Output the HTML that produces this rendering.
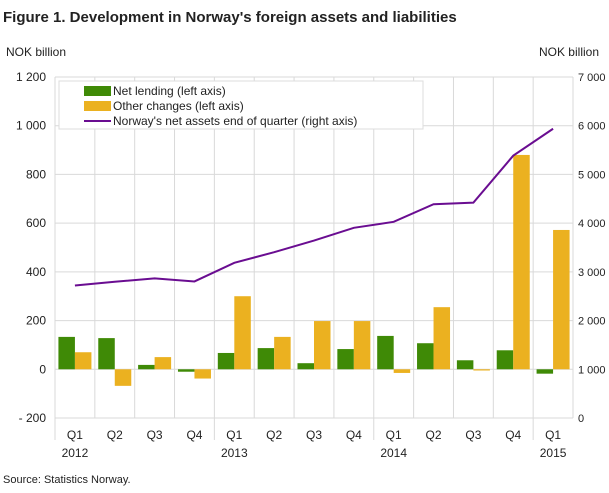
<!DOCTYPE html>
<html><head><meta charset="utf-8"><style>
body{margin:0;background:#fff;font-family:"Liberation Sans",sans-serif;}
svg text{font-family:"Liberation Sans",sans-serif;fill:#222;}
</style></head><body>
<svg width="609" height="488" xmlns="http://www.w3.org/2000/svg">
<text x="3" y="22" font-size="15" font-weight="bold">Figure 1. Development in Norway's foreign assets and liabilities</text>
<text x="6" y="56" font-size="12">NOK billion</text>
<text x="599" y="56" font-size="12" text-anchor="end">NOK billion</text>
<g id="grid"></g><g id="bars"></g><g id="line"></g><g id="axes"></g>
<g>
<rect x="59" y="81" width="364" height="48" fill="#fff" stroke="#ddd"/>
<rect x="84" y="86" width="27" height="10" fill="#3f8a06"/>
<text x="113" y="95" font-size="12">Net lending (left axis)</text>
<rect x="84" y="101" width="27" height="10" fill="#ebb120"/>
<text x="113" y="110" font-size="12">Other changes (left axis)</text>
<line x1="84" y1="121" x2="111" y2="121" stroke="#6a0d91" stroke-width="2"/>
<text x="113" y="125" font-size="12">Norway's net assets end of quarter (right axis)</text>
</g>
<text x="3" y="483" font-size="11">Source: Statistics Norway.</text>
</svg>
<script>
const quarters=["Q1","Q2","Q3","Q4","Q1","Q2","Q3","Q4","Q1","Q2","Q3","Q4","Q1"];
const years=["2012","","","","2013","","","","2014","","","","2015"];
const netLending=[133,128,18,-10,67,87,25,83,137,107,37,78,-18];
const otherChanges=[70,-68,50,-38,300,133,198,198,-15,255,-5,880,572];
const netAssets=[2720,2797,2865,2803,3186,3404,3643,3904,4027,4388,4422,5385,5938];
const leftTicks=[-200,0,200,400,600,800,1000,1200];
const leftTickLabels=["- 200","0","200","400","600","800","1 000","1 200"];
const rightTicks=[0,1000,2000,3000,4000,5000,6000,7000];
const rightTickLabels=["0","1 000","2 000","3 000","4 000","5 000","6 000","7 000"];
const NS="http://www.w3.org/2000/svg";
const L=55,R=573,T=77,B=418;
const yL=v=>B-(v+200)/1400*(B-T);
const yR=v=>B-v/7000*(B-T);
const step=(R-L)/quarters.length;
const xC=i=>L+step*(i+0.5);
function mk(tag,attrs,parent){const e=document.createElementNS(NS,tag);for(const k in attrs)e.setAttribute(k,attrs[k]);document.getElementById(parent).appendChild(e);return e;}
leftTicks.forEach((t,i)=>{
 const g=mk("line",{x1:L,x2:R,y1:yL(t),y2:yL(t),stroke:"#d9d9d9"},"grid");
 
 
 const tx=mk("text",{x:46,y:yL(t)+4,"font-size":12,"text-anchor":"end"},"axes");tx.textContent=leftTickLabels[i];
 
 
});
rightTicks.forEach((t,i)=>{
 const tx=mk("text",{x:578,y:yR(t)+4,"font-size":11},"axes");tx.textContent=rightTickLabels[i];
 
 
});
for(let i=0;i<=quarters.length;i++){
 const g=mk("line",{x1:L+step*i,x2:L+step*i,y1:T,y2:B+(i%4==0?22:0),stroke:"#d9d9d9"},"grid");
 
 
}
const bw=16.5;
quarters.forEach((q,i)=>{
 const c=xC(i);
 const b1=mk("rect",{x:c-bw,y:Math.min(yL(0),yL(netLending[i])),width:bw,height:Math.abs(yL(netLending[i])-yL(0)),fill:"#3f8a06"},"bars");
 
 
 const b2=mk("rect",{x:c,y:Math.min(yL(0),yL(otherChanges[i])),width:bw,height:Math.abs(yL(otherChanges[i])-yL(0)),fill:"#ebb120"},"bars");
 
 
 const t1=mk("text",{x:c,y:439,"font-size":12,"text-anchor":"middle"},"axes");t1.textContent=q;
 
 
 if(years[i]){const t2=mk("text",{x:c,y:457,"font-size":12,"text-anchor":"middle"},"axes");t2.textContent=years[i];
 
 }
});
const pl=mk("polyline",{points:netAssets.map((v,i)=>xC(i)+","+yR(v)).join(" "),fill:"none",stroke:"#6a0d91","stroke-width":2},"line");


const ax=mk("line",{x1:L,x2:R,y1:B,y2:B,stroke:"#d9d9d9"},"axes");


</script>
</body></html>
